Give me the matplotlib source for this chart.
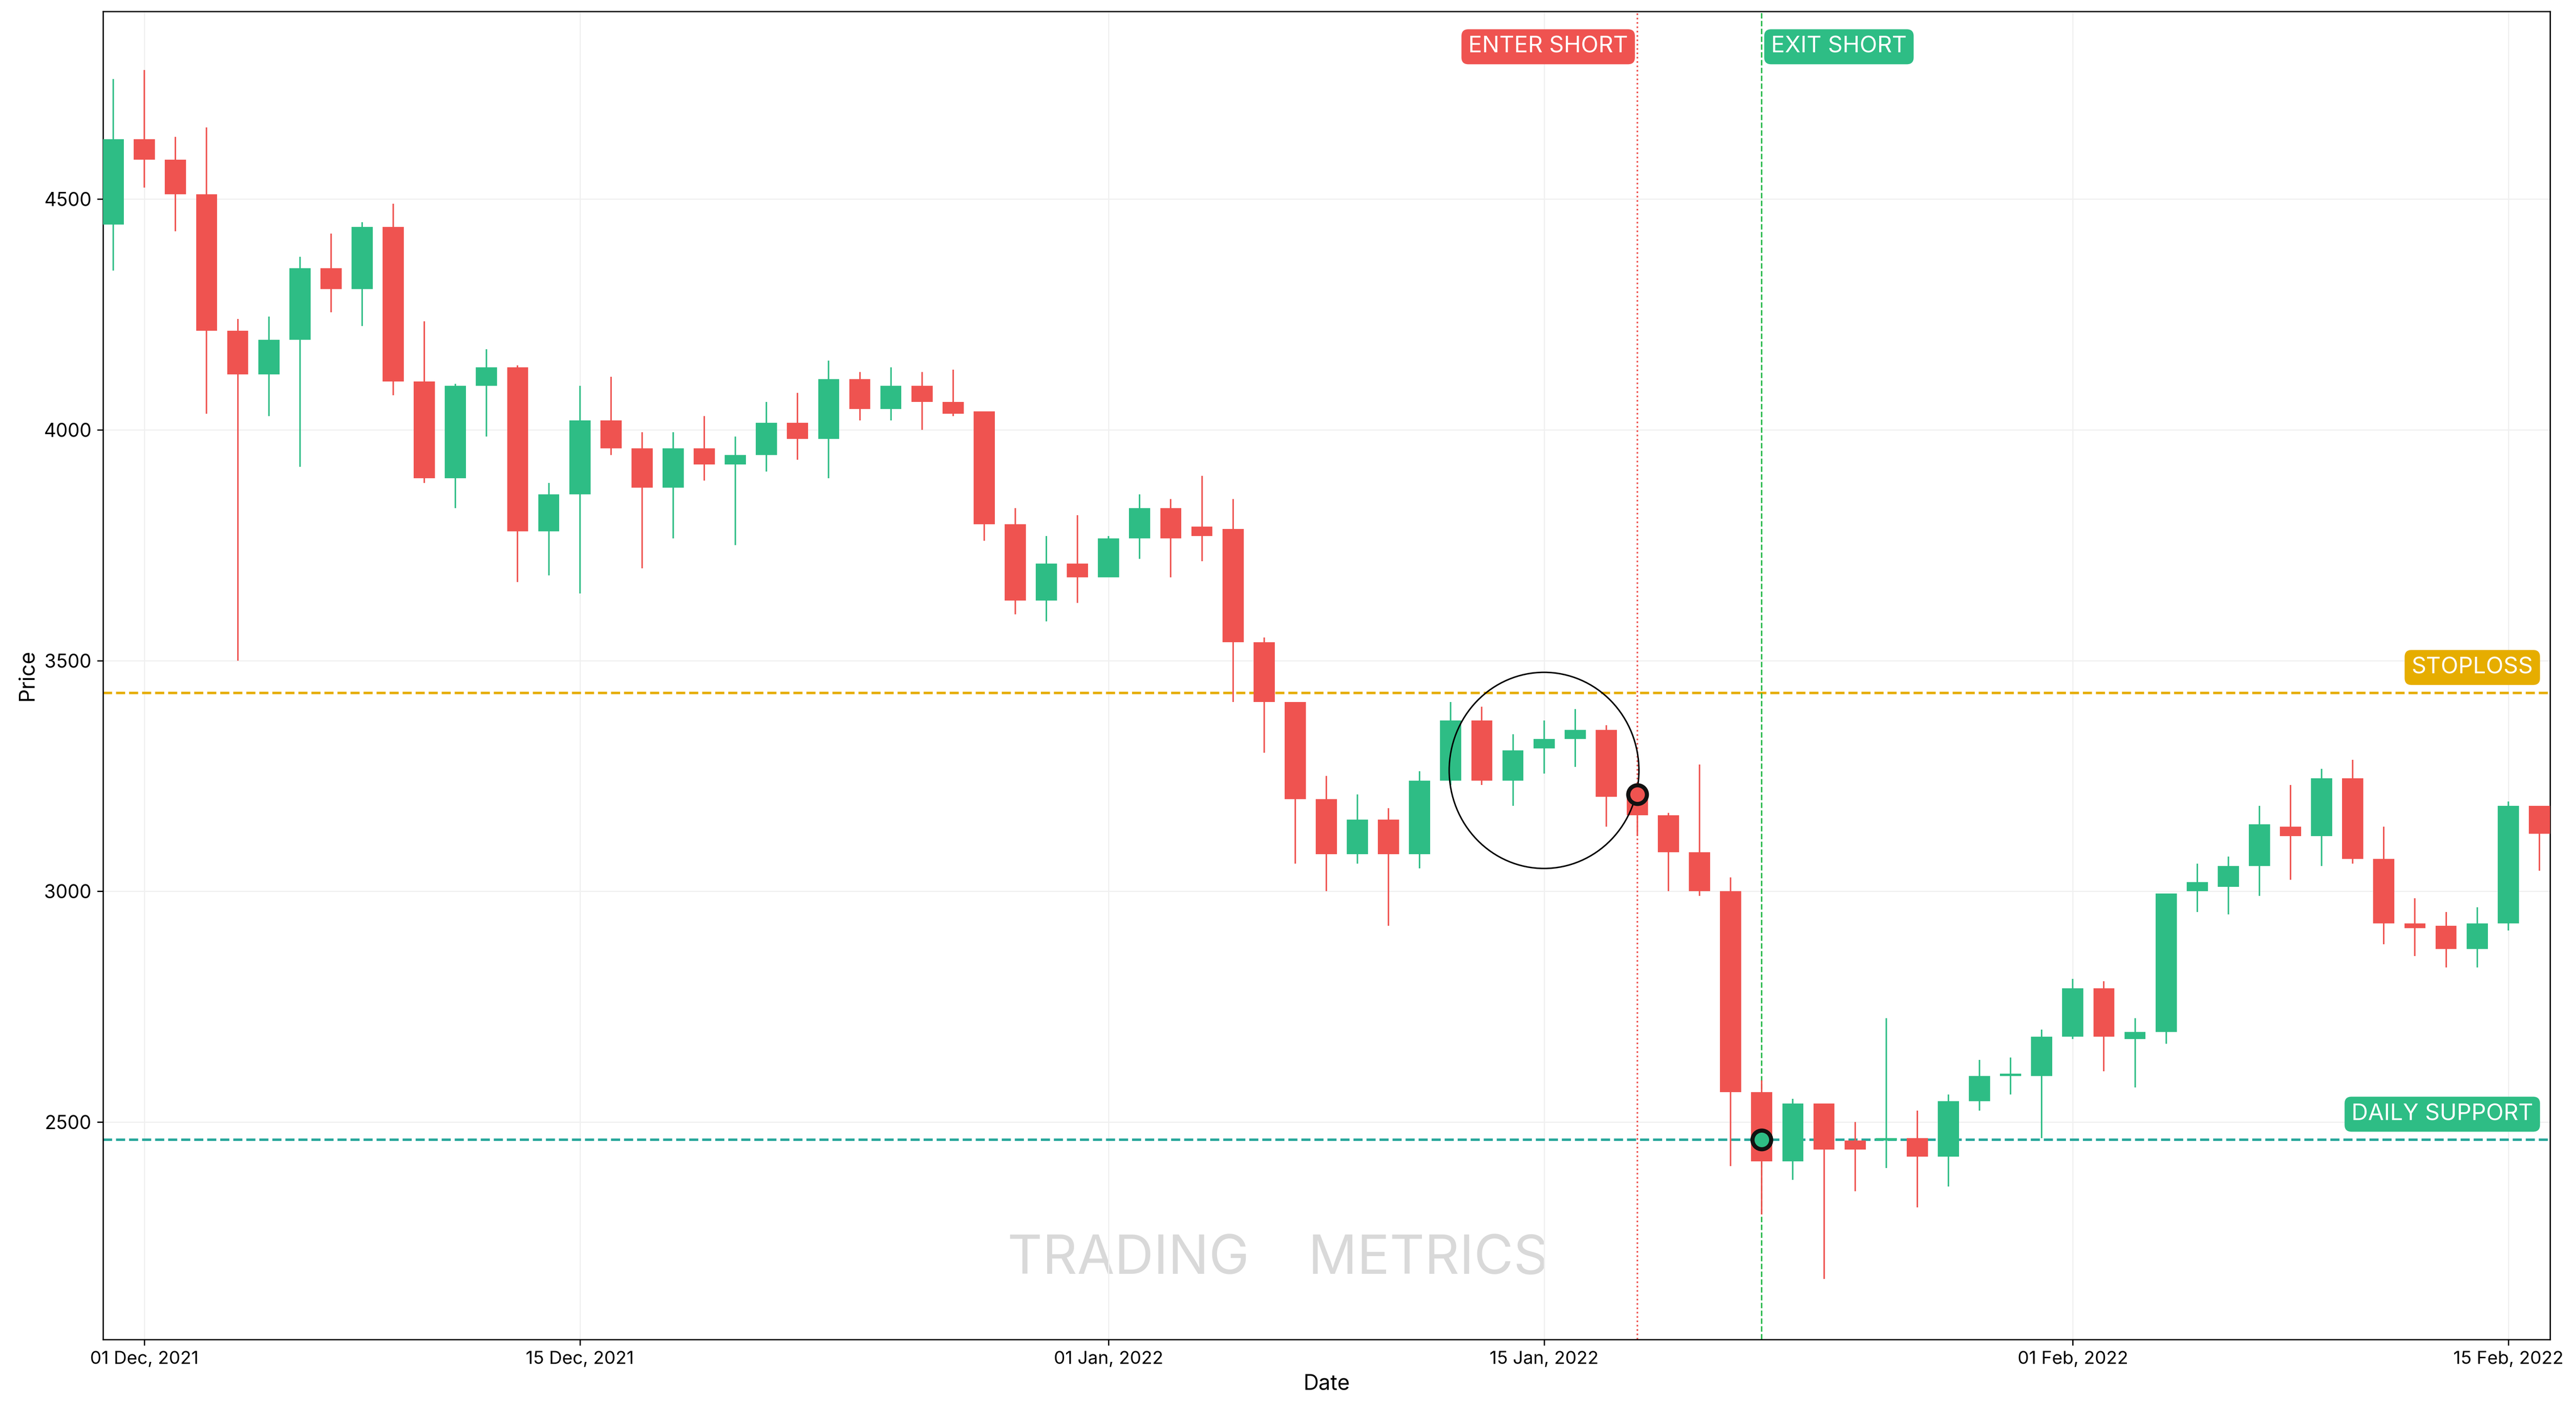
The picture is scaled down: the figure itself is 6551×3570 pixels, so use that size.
import matplotlib
matplotlib.use("Agg")
import matplotlib.pyplot as plt
import matplotlib.dates as mdates
import pandas as pd
from matplotlib.patches import Ellipse

GREEN = "#2ebd85"
RED = "#ef5350"
YELLOW = "#e6ad00"
plt.rcParams['font.family'] = ['Inter', 'DejaVu Sans']

dates = pd.date_range("2021-11-30", "2022-02-16", freq="D")
opens = [4445, 4630, 4585, 4510, 4215, 4120, 4195, 4350, 4305, 4440,
         4105, 3895, 4095, 4135, 3780, 3860, 4020, 3960, 3875, 3960,
         3925, 3945, 4015, 3980, 4110, 4045, 4095, 4060, 4040, 3795,
         3630, 3710, 3680, 3765, 3830, 3790, 3785, 3540, 3410, 3200,
         3080, 3155, 3080, 3240, 3370, 3240, 3310, 3330, 3350, 3205,
         3165, 3085, 3000, 2565, 2415, 2540, 2460, 2460, 2465, 2425,
         2545, 2600, 2600, 2685, 2790, 2680, 2695, 3000, 3010, 3055,
         3140, 3120, 3245, 3070, 2930, 2925, 2875, 2930, 3185]
closes = [4630, 4585, 4510, 4215, 4120, 4195, 4350, 4305, 4440, 4105,
          3895, 4095, 4135, 3780, 3860, 4020, 3960, 3875, 3960, 3925,
          3945, 4015, 3980, 4110, 4045, 4095, 4060, 4035, 3795, 3630,
          3710, 3680, 3765, 3830, 3765, 3770, 3540, 3410, 3200, 3080,
          3155, 3080, 3240, 3370, 3240, 3305, 3330, 3350, 3205, 3165,
          3085, 3000, 2565, 2415, 2540, 2440, 2440, 2465, 2425, 2545,
          2600, 2605, 2685, 2790, 2685, 2695, 2995, 3020, 3055, 3145,
          3120, 3245, 3070, 2930, 2920, 2875, 2930, 3185, 3125]
highs = [4760, 4780, 4635, 4655, 4240, 4245, 4375, 4425, 4450, 4490,
         4235, 4100, 4175, 4140, 3885, 4095, 4115, 3995, 3995, 4030,
         3985, 4060, 4080, 4150, 4125, 4135, 4125, 4130, 4040, 3830,
         3770, 3815, 3770, 3860, 3850, 3900, 3850, 3550, 3410, 3250,
         3210, 3180, 3260, 3410, 3400, 3340, 3370, 3395, 3360, 3210,
         3170, 3275, 3030, 2590, 2550, 2540, 2500, 2725, 2525, 2560,
         2635, 2640, 2700, 2810, 2805, 2725, 2995, 3060, 3075, 3185,
         3230, 3265, 3285, 3140, 2985, 2955, 2965, 3195, 3185]
lows = [4345, 4525, 4430, 4035, 3500, 4030, 3920, 4255, 4225, 4075,
        3885, 3830, 3985, 3670, 3685, 3645, 3945, 3700, 3765, 3890,
        3750, 3910, 3935, 3895, 4020, 4020, 4000, 4030, 3760, 3600,
        3585, 3625, 3680, 3720, 3680, 3715, 3410, 3300, 3060, 3000,
        3060, 2925, 3050, 3230, 3230, 3185, 3255, 3270, 3140, 3120,
        3000, 2990, 2405, 2300, 2375, 2160, 2350, 2400, 2315, 2360,
        2525, 2560, 2465, 2680, 2610, 2575, 2670, 2955, 2950, 2990,
        3025, 3055, 3060, 2885, 2860, 2835, 2835, 2915, 3045]

stoploss = 3430
support = 2462
enter_date, enter_price = pd.Timestamp("2022-01-18"), 3210
exit_date, exit_price = pd.Timestamp("2022-01-22"), 2462

fig, ax = plt.subplots(figsize=(6551 / 300, 3570 / 300), dpi=300)
x = mdates.date2num(dates)
for xi, o, c, h, l in zip(x, opens, closes, highs, lows):
    col = GREEN if c >= o else RED
    ax.vlines(xi, l, h, color=col, lw=0.9, zorder=2)
    ax.bar(xi, max(abs(c - o), 4), bottom=min(o, c), width=0.68, color=col, zorder=3)

ax.axhline(stoploss, color=YELLOW, ls="--", lw=1.5, zorder=1)
ax.axhline(support, color="#26a69a", ls="--", lw=1.5, zorder=1)
ex, xx = mdates.date2num(enter_date), mdates.date2num(exit_date)
ax.axvline(ex, color=RED, ls=":", lw=1.0, zorder=1)
ax.axvline(xx, color="#2dbb4f", ls="--", lw=0.9, zorder=1)
ax.scatter([ex], [enter_price], s=130, color=RED, edgecolor="#111", lw=2.5, zorder=5)
ax.scatter([xx], [exit_price], s=130, color=GREEN, edgecolor="#111", lw=2.5, zorder=5)
ax.add_patch(Ellipse((mdates.date2num(pd.Timestamp("2022-01-15")), 3262), 6.1, 425,
                     fill=False, edgecolor="black", lw=0.9, zorder=4))

def tag(xp, yp, s, col, ha):
    ax.text(xp, yp, s, color="white", fontsize=14, ha=ha, va="center", zorder=6,
            bbox=dict(boxstyle="round,pad=0.3", fc=col, ec="none"))

tag(ex - 0.3, 4830, "ENTER SHORT", RED, "right")
tag(xx + 0.3, 4830, "EXIT SHORT", GREEN, "left")
tag(mdates.date2num(pd.Timestamp("2022-02-16")) - 0.2, 3485, "STOPLOSS", YELLOW, "right")
tag(mdates.date2num(pd.Timestamp("2022-02-16")) - 0.2, 2517, "DAILY SUPPORT", GREEN, "right")

ax.text(0.48, 0.06, "TRADING\u2009\u2009\u2009\u2009\u2009\u2009METRICS", transform=ax.transAxes,
        fontsize=33, color="#d9d9d9", ha="center", va="center", zorder=0)

ax.set_xlim(mdates.date2num(pd.Timestamp("2021-11-29")) + 0.67,
            mdates.date2num(pd.Timestamp("2022-02-16")) + 0.35)
ax.set_ylim(2029, 4907)
ticks = pd.to_datetime(["2021-12-01", "2021-12-15", "2022-01-01", "2022-01-15",
                        "2022-02-01", "2022-02-15"])
ax.set_xticks(mdates.date2num(ticks))
ax.set_xticklabels([t.strftime("%d %b, %Y") for t in ticks], fontsize=11)
ax.set_yticks([2500, 3000, 3500, 4000, 4500])
ax.tick_params(axis="y", labelsize=11.5)
ax.grid(True, color="#f0f0f0", lw=0.7, zorder=0)
ax.set_axisbelow(True)
ax.set_xlabel("Date", fontsize=13)
ax.set_ylabel("Price", fontsize=13)
fig.subplots_adjust(left=0.04, right=0.99, top=0.992, bottom=0.046)
fig.savefig("out.png", dpi=300)
